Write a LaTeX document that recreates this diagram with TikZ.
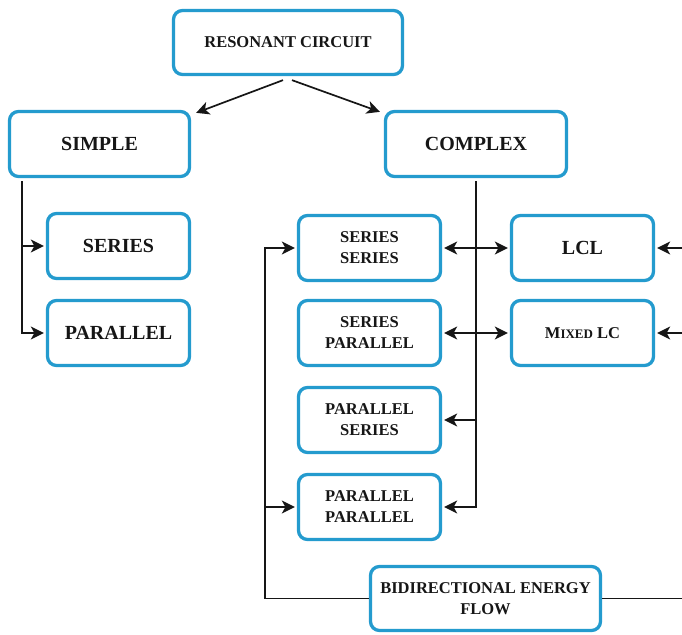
\documentclass[tikz,border=0pt]{standalone}
\usepackage{fontspec}
\setmainfont{Liberation Serif}
\usetikzlibrary{arrows.meta,calc}
\definecolor{boxblue}{RGB}{36,155,206}
\definecolor{ink}{RGB}{22,22,22}
\begin{document}
\begin{tikzpicture}[x=1pt,y=-1pt,
 box/.style={draw=boxblue, line width=3.3pt, rounded corners=9pt, fill=white, align=center,
   font=\bfseries\fontsize{16.5}{21}\selectfont, text=ink, inner sep=0pt,
   minimum width=142pt, minimum height=65pt},
 big/.style={font=\bfseries\fontsize{20}{24}\selectfont},
 conn/.style={line width=1.7pt, ink},
 tip/.tip={Stealth[length=13pt,width=13pt,inset=3.5pt]},
 arr/.style={conn, -tip, shorten >=2pt},
 darr/.style={conn, tip-tip, shorten >=2pt, shorten <=2pt}]
\useasboundingbox (0,0) rectangle (682,634);

\node[box, minimum width=229pt, minimum height=64pt] (res) at (288,42.5) {RESONANT CIRCUIT};
\node[box, big, minimum width=180pt] (simple) at (99.5,144) {SIMPLE};
\node[box, big, minimum width=181pt] (complex) at (476,144) {COMPLEX};
\node[box, big] (serL) at (118.5,246) {SERIES};
\node[box, big] (parL) at (118.5,333) {PARALLEL};
\node[box] (ss) at (369.5,248) {SERIES\\SERIES};
\node[box] (sp) at (369.5,333) {SERIES\\PARALLEL};
\node[box] (ps) at (369.5,420) {PARALLEL\\SERIES};
\node[box] (pp) at (369.5,507) {PARALLEL\\PARALLEL};
\node[box, big] (lcl) at (582.5,248) {LCL};
\node[box] (mix) at (582.5,333) {M{\fontsize{13}{15}\selectfont IXED} LC};
\node[box, minimum width=230pt, minimum height=64pt] (bid) at (485.5,598.5) {BIDIRECTIONAL ENERGY\\FLOW};

% top split
\draw[arr, shorten >=0pt] ($(res.south)+(-5,4)$) -- ($(simple.north east)+(5,3)$);
\draw[arr, shorten >=0pt] ($(res.south)+(4,4)$) -- ($(complex.north west)+(-4,2)$);

% simple bus
\coordinate (sbus) at (22,181);
\draw[arr] (sbus) |- (parL.west);
\draw[arr] (sbus |- serL.west) -- (serL.west);

% complex bus
\coordinate (cbus) at (476,181);
\draw[arr] (cbus) |- (pp.east);
\draw[arr] (cbus |- ps.east) -- (ps.east);
\draw[darr] (ss.east) -- (lcl.west);
\draw[darr] (sp.east) -- (mix.west);

% left bus from bidirectional
\coordinate (lb) at (265,0);
\draw[arr] (bid.west) -| (lb |- ss.west) -- (ss.west);
\draw[arr] (lb |- pp.west) -- (pp.west);

% right bus off the edge
\coordinate (rb) at (684,0);
\draw[conn] (bid.east) -- (rb |- bid.east);
\draw[arr] (rb |- lcl.east) -- (lcl.east);
\draw[arr] (rb |- mix.east) -- (mix.east);
\end{tikzpicture}
\end{document}
